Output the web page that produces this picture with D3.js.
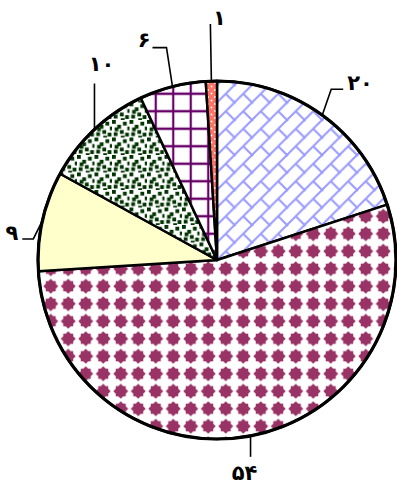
<!DOCTYPE html>
<html>
<head>
  <meta charset="utf-8">
  <title>pie</title>
  <style>
    body { margin: 0; background: #fff; }
    .label { font: bold 21px "DejaVu Sans", sans-serif; fill: #000; }
    .leader { fill: none; stroke: #000; stroke-width: 1.6px; }
    .slice { stroke: #000; stroke-width: 2.5px; stroke-linejoin: round; }
    .rim { fill: none; stroke: #000; stroke-width: 3.2px; }
  </style>
  <script src="https://cdn.jsdelivr.net/npm/d3@7"></script>
</head>
<body>
  <script>
    // data, clockwise from 12 o'clock
    var values = [20, 54, 9, 10, 6, 1];
    var labels = ["۲۰", "۵۴", "۹", "۱۰", "۶", "۱"];

    // styling
    var fills = ["url(#brick)", "url(#diamond)", "#ffffcc", "url(#confetti)", "url(#grid)", "url(#dots)"];
    // leader: elbow offset from the arc point, horizontal tick, then label offset
    var leaders = [
      {dx: 9,  dy: -26, tick: 12,  lx: 4,  ly: 1,   anchor: "start"},
      {dx: 0,  dy: 21,  tick: 0,   lx: -6, ly: 23,  anchor: "middle"},
      {dx: -9, dy: 18,  tick: -11, lx: -4, ly: 1,   anchor: "end"},
      {dx: 0,  dy: -46, tick: 0,   lx: 7,  ly: -13, anchor: "middle"},
      {dx: -6, dy: -39, tick: -14, lx: -2, ly: -1,  anchor: "end"},
      {dx: -1, dy: -57, tick: 0,   lx: 9,  ly: 1,   anchor: "middle"}
    ];

    var width = 397, height = 484;
    var cx = 217, cy = 260, r = 179;
    var s = 17.5; // pattern tile

    var svg = d3.select("body").append("svg")
      .attr("width", width)
      .attr("height", height);

    var defs = svg.append("defs");
    function tile(id, size, bg) {
      var p = defs.append("pattern")
        .attr("id", id)
        .attr("patternUnits", "userSpaceOnUse")
        .attr("width", size).attr("height", size);
      p.append("rect").attr("width", size).attr("height", size).attr("fill", bg);
      return p;
    }

    // diagonal brick
    tile("brick", s, "#fff").append("path")
      .attr("d", "M-1," + (s + 1) + "L" + (s + 1) + ",-1"
        + "M" + s / 2 + "," + s / 2 + "L" + (s + 1) + "," + (s + 1)
        + "M-1,-1L1,1")
      .attr("fill", "none").attr("stroke", "#9999ff").attr("stroke-width", 2);

    // solid diamonds
    var c = s / 2;
    tile("diamond", s, "#fff").append("path")
      .attr("d", "M" + c + "," + (c - 7.5) + "L" + (c + 7.5) + "," + c + "L" + c + "," + (c + 7.5) + "L" + (c - 7.5) + "," + c + "Z"
        + "M" + (c - 5) + "," + (c - 5) + "h10v10h-10Z")
      .attr("fill", "#993366");

    // small confetti
    var conf = tile("confetti", s, "#fff");
    var u = s / 8;
    [[0, 0], [5, 0.8], [2.4, 2.2], [7, 3], [3.6, 4.6], [6, 5.8], [0.8, 5.6], [4, 7.2], [1.2, 3.4]].forEach(function(q) {
      conf.append("rect")
        .attr("x", q[0] * u).attr("y", q[1] * u)
        .attr("width", 3.8).attr("height", 3.8)
        .attr("fill", "#003300");
    });

    // large grid
    tile("grid", s, "#fff").append("path")
      .attr("d", "M" + c + ",0V" + s + "M0," + c + "H" + s)
      .attr("fill", "none").attr("stroke", "#660066").attr("stroke-width", 2.2);

    // dotted
    var dots = tile("dots", 7, "#fb7466");
    [[1.5, 1.5], [5, 5]].forEach(function(q) {
      dots.append("circle").attr("cx", q[0]).attr("cy", q[1]).attr("r", 0.9).attr("fill", "#fff");
    });

    var g = svg.append("g").attr("transform", "translate(" + cx + "," + cy + ")");

    var pie = d3.pie().sort(null).value(function(d) { return d; });
    var arcs = pie(values);
    var arc = d3.arc().innerRadius(0).outerRadius(r);

    g.selectAll(".slice")
      .data(arcs)
      .enter().append("path")
        .attr("class", "slice")
        .attr("d", arc)
        .attr("fill", function(d, i) { return fills[i]; });

    g.append("circle").attr("class", "rim").attr("r", r);

    // leaders + labels
    arcs.forEach(function(d, i) {
      var a = (d.startAngle + d.endAngle) / 2;
      var p0 = [r * Math.sin(a), -r * Math.cos(a)];
      var L = leaders[i];
      var p1 = [p0[0] + L.dx, p0[1] + L.dy];
      var p2 = [p1[0] + L.tick, p1[1]];
      g.append("path")
        .attr("class", "leader")
        .attr("d", d3.line()([p0, p1, p2]));
      g.append("text")
        .attr("class", "label")
        .attr("x", p2[0] + L.lx)
        .attr("y", p2[1] + L.ly)
        .style("text-anchor", L.anchor)
        .text(labels[i]);
    });
  </script>
</body>
</html>
